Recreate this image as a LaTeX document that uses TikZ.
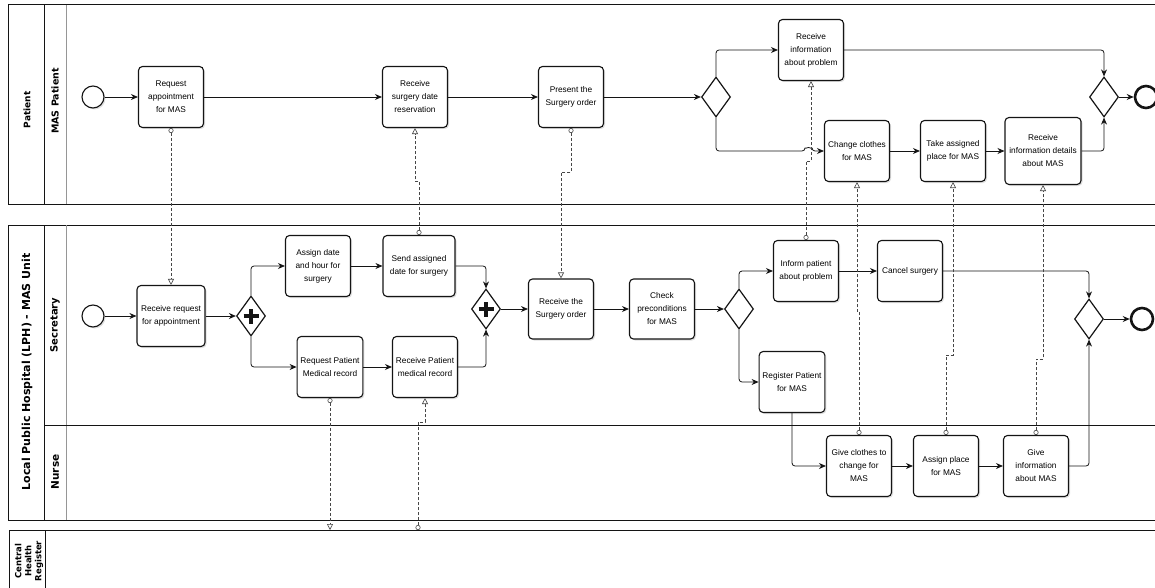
\documentclass[tikz,border=0pt]{standalone}
\usepackage{fontspec}
\setmainfont{Liberation Sans}
\newfontfamily\lanefont{DejaVu Sans}
\usepackage{tikz}
\usetikzlibrary{arrows.meta,shapes,positioning,shadows}
\usepackage{xcolor}
\definecolor{bpline}{RGB}{20,20,20}
\definecolor{bpmsg}{RGB}{70,70,70}
\definecolor{bplane}{RGB}{150,150,150}
\tikzstyle{task} = [rectangle, rounded corners=4pt, minimum width=65pt, minimum height=61pt, align=center, draw=bpline, fill=white, line width=1.1pt, font=\fontsize{8.3}{13}\selectfont, drop shadow={shadow xshift=1.5pt, shadow yshift=-1.5pt, opacity=0.25}]
\tikzstyle{event} = [circle, minimum size=22pt, inner sep=0pt, draw=bpline, fill=white, line width=1.1pt, drop shadow={shadow xshift=1.5pt, shadow yshift=-1.5pt, opacity=0.25}]
\tikzstyle{endevent} = [circle, minimum size=22pt, inner sep=0pt, draw=bpline, fill=white, line width=2.6pt]
\tikzstyle{gate} = [diamond, minimum width=29pt, minimum height=40pt, inner sep=0pt, draw=bpline, fill=white, line width=1.2pt]
\tikzstyle{andgate} = [gate, path picture={\draw[line width=4pt] ([xshift=-7.5pt]path picture bounding box.center) -- ([xshift=7.5pt]path picture bounding box.center) ([yshift=-7.5pt]path picture bounding box.center) -- ([yshift=7.5pt]path picture bounding box.center);}]
\tikzstyle{flow} = [-{Stealth[length=7pt,width=6pt]}, line width=0.8pt, color=bpline, rounded corners=3pt]
\tikzstyle{msg} = [densely dashed, line width=0.6pt, color=bpmsg, {Circle[open,length=5pt,width=5pt]}-{Triangle[open,length=6pt,width=6pt]}]
\tikzstyle{pool} = [line width=1pt, color=bpline]
\tikzstyle{lanesep} = [line width=1pt, color=bplane]
\tikzstyle{lanelabel} = [rotate=90, align=center, font=\lanefont\bfseries\fontsize{9.5}{10}\selectfont]

\begin{document}
\begin{tikzpicture}[x=1pt, y=-1pt]
\clip (0,0) rectangle (1155,588);
% Pools and lanes
\draw[pool] (8,5) rectangle (1170,204);
\draw[pool] (44,5) -- (44,204);
\draw[lanesep] (66,5) -- (66,204);
\draw[pool] (8,225) rectangle (1170,520);
\draw[pool] (44,225) -- (44,520);
\draw[lanesep] (66,225) -- (66,520);
\draw[pool] (44,425) -- (1170,425);
\draw[pool] (9,530) rectangle (1170,600);
\draw[pool] (45,530) -- (45,600);

\node[lanelabel, font=\lanefont\bfseries\fontsize{9}{10}\selectfont] at (27,110) {Patient};
\node[lanelabel] at (55,101) {MAS Patient};
\node[lanelabel, font=\lanefont\bfseries\fontsize{11}{12}\selectfont] at (27,372) {Local Public Hospital (LPH) - MAS Unit};
\node[lanelabel, font=\lanefont\bfseries\fontsize{10}{11}\selectfont] at (55,325) {Secretary};
\node[lanelabel, font=\lanefont\bfseries\fontsize{10.5}{11}\selectfont] at (55,472) {Nurse};
\node[lanelabel, font=\lanefont\bfseries\fontsize{8.5}{10}\selectfont] at (29,561) {Central\\Health\\Register};

% Patient lane
\node (pstart) [event] at (93,97) {};
\node (reqapp) [task] at (171,97) {Request\\appointment\\for MAS};
\node (rcvres) [task, right of=reqapp, node distance=244pt] {Receive\\surgery date\\reservation};
\node (present) [task, right of=rcvres, node distance=156pt] {Present the\\Surgery order};
\node (pgw1) [gate, right of=present, node distance=145pt] {};
\node (rcvprob) [task] at (811,50) {Receive\\information\\about problem};
\node (chgcl) [task] at (857,151) {Change clothes\\for MAS};
\node (takepl) [task, right of=chgcl, node distance=96pt] {Take assigned\\place for MAS};
\node (rcvdet) [task, right of=takepl, node distance=90pt, minimum width=76pt, minimum height=67pt] {Receive\\information details\\about MAS};
\node (pgw2) [gate] at (1104,97) {};
\node (pend) [endevent] at (1146,97) {};

% Secretary lane
\node (sstart) [event] at (93,316) {};
\node (rcvreq) [task, minimum width=68pt] at (171,316) {Receive request\\for appointment};
\node (fork) [andgate] at (251,316) {};
\node (assign) [task] at (318,266) {Assign date\\and hour for\\surgery};
\node (sendd) [task, right of=assign, node distance=101pt, minimum width=72pt] {Send assigned\\date for surgery};
\node (reqrec) [task] at (330,367) {Request Patient\\Medical record};
\node (rcvrec) [task, right of=reqrec, node distance=95pt] {Receive Patient\\medical record};
\node (join) [andgate] at (486,309) {};
\node (rcvord) [task, right of=join, node distance=75pt, minimum height=60pt] {Receive the\\Surgery order};
\node (check) [task, right of=rcvord, node distance=101pt, minimum height=60pt] {Check\\preconditions\\for MAS};
\node (sgw1) [gate, right of=check, node distance=77pt] {};
\node (inform) [task] at (806,271) {Inform patient\\about problem};
\node (cancel) [task, right of=inform, node distance=104pt] {Cancel surgery};
\node (regpat) [task] at (792,382) {Register Patient\\for MAS};
\node (sgw2) [gate] at (1089,319) {};
\node (send) [endevent] at (1142,319) {};

% Nurse lane
\node (giveclo) [task] at (859,466) {Give clothes to\\change for\\MAS};
\node (asgpl) [task, right of=giveclo, node distance=87pt] {Assign place\\for MAS};
\node (giveinf) [task, right of=asgpl, node distance=90pt] {Give\\information\\about MAS};

% Central Health Register edge
\coordinate (chr1) at (330,530);
\coordinate (chr2) at (418,530);
\coordinate (hop) at (805,151);

% Sequence flows, patient
\draw[flow] (pstart) -- (reqapp);
\draw[flow] (reqapp) -- (rcvres);
\draw[flow] (rcvres) -- (present);
\draw[flow] (present) -- (pgw1);
\draw[flow] (pgw1.north) |- (rcvprob.west);
\draw[flow] (pgw1.south) |- (hop) arc[start angle=180, end angle=360, radius=3.5] -- (chgcl.west);
\draw[flow] (chgcl) -- (takepl);
\draw[flow] (takepl) -- (rcvdet);
\draw[flow] (rcvprob.east) -| (pgw2.north);
\draw[flow] (rcvdet.east) -| (pgw2.south);
\draw[flow] (pgw2) -- (pend);

% Sequence flows, secretary and nurse
\draw[flow] (sstart) -- (rcvreq);
\draw[flow] (rcvreq) -- (fork);
\draw[flow] (fork.north) |- (assign.west);
\draw[flow] (fork.south) |- (reqrec.west);
\draw[flow] (assign) -- (sendd);
\draw[flow] (reqrec) -- (rcvrec);
\draw[flow] (sendd.east) -| (join.north);
\draw[flow] (rcvrec.east) -| (join.south);
\draw[flow] (join) -- (rcvord);
\draw[flow] (rcvord) -- (check);
\draw[flow] (check) -- (sgw1);
\draw[flow] (sgw1.north) |- (inform.west);
\draw[flow] (sgw1.south) |- (regpat.west);
\draw[flow] (inform) -- (cancel);
\draw[flow] (cancel.east) -| (sgw2.north);
\draw[flow] (regpat.south) |- (giveclo.west);
\draw[flow] (giveclo) -- (asgpl);
\draw[flow] (asgpl) -- (giveinf);
\draw[flow] (giveinf.east) -| (sgw2.south);
\draw[flow] (sgw2) -- (send);

% Message flows
\draw[msg] (reqapp.south) -- (rcvreq.north);
\draw[msg] (sendd.north) -- ++(0,-54) -| (rcvres.south);
\draw[msg] (present.south) -- ++(0,44) -| (rcvord.north);
\draw[msg] (inform.north) -- ++(0,-79) -| (rcvprob.south);
\draw[msg] (giveclo.north) -- ++(0,-124) -| (chgcl.south);
\draw[msg] (asgpl.north) -- ++(0,-80) -| (takepl.south);
\draw[msg] (giveinf.north) -- ++(0,-76) -| (rcvdet.south);
\draw[msg] (reqrec.south) -- (chr1);
\draw[msg] (chr2) -- ++(0,-108) -| (rcvrec.south);
\end{tikzpicture}
\end{document}
